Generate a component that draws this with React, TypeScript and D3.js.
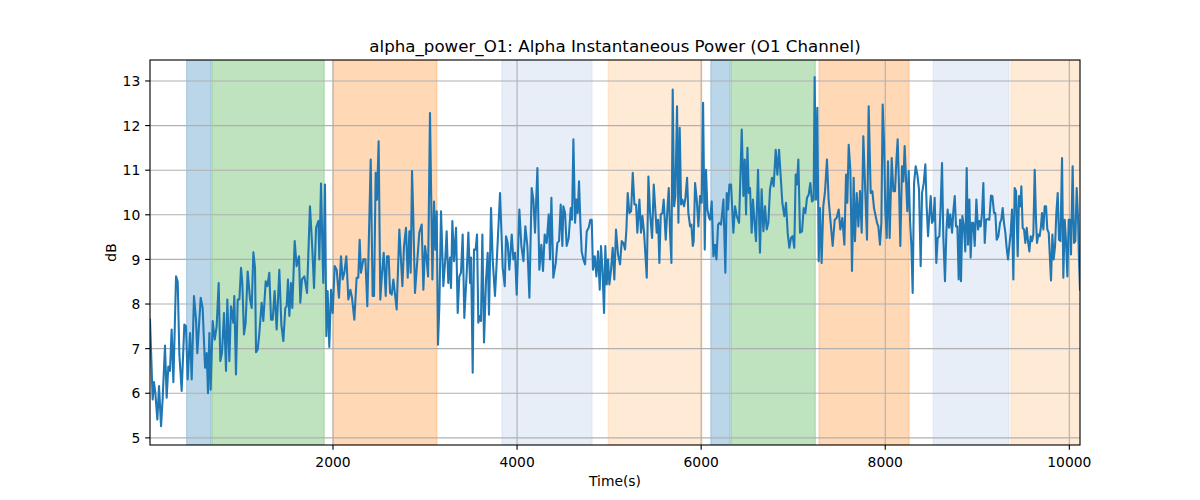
import React from "react";
import * as d3 from "d3";

// ---- data ----
const timeSec: number[] = [
  12,41,55,70,92,110,132,150,175,193,211,229,247,266,295,313,331,356,385,403,421,447,465,490,512,526,563,584,610,628,642,657,671,693,715,736,758,776,794,816,838,852,874,892,917,928,946,965,983,1001,1015,1033,1051,1073,1099,1117,1135,1153,1164,1182,1200,
  1225,1243,1269,1287,1308,1327,1345,1366,1388,1417,1439,1461,1482,1497,1511,1526,1544,1558,1584,1605,1631,1645,1663,1689,1718,1750,1776,1794,1816,1841,1852,1870,1888,1895,1913,1928,1942,1960,1979,1997,2018,2040,2065,2087,2105,2123,2145,2167,2189,2207,2232,2257,2275,2290,2304,2330,2352,2373,2410,2431,2446,2464,2478,2496,2514,2533,2551,2573,2587,2605,
  2620,2638,2656,2674,2692,2721,2754,2772,2793,2812,2830,2844,2859,2873,2891,2917,2938,2964,2982,3000,3018,3033,3054,3080,3098,3112,3127,3141,3156,3174,3199,3221,3235,3253,3272,3282,3297,3315,3337,3355,3373,3391,3409,3427,3453,3471,3489,3500,3518,3532,3550,3565,3579,3597,3608,3623,3641,3663,3681,3695,3717,3735,3760,3782,3815,3844,3866,3880,3898,3916,
  3942,3960,3978,3996,4025,4047,4069,4090,4112,4134,4159,4177,4195,4221,4242,4264,4282,4300,4322,4344,4358,4373,4394,4420,4438,4456,4474,4492,4503,4521,4539,4561,4583,4597,4612,4630,4644,4659,4673,4688,4702,4720,4739,4757,4778,4796,4811,4825,4844,4862,4880,4898,4912,4927,4945,4959,4974,4988,5003,5021,5039,5057,5075,5097,5119,5137,5155,5173,
  5188,5202,5220,5239,5257,5275,5293,5307,5329,5347,5362,5380,5409,5427,5445,5467,5485,5503,5517,5532,5546,5561,5579,5593,5615,5630,5648,5662,5677,5691,5706,5720,5738,5753,5767,5782,5796,5814,5829,5847,5861,5880,5894,5909,5919,5934,5952,5970,5988,6006,6021,6039,6053,6068,6086,6097,6115,6133,6151,6166,6184,6198,6216,6242,6263,6278,6292,6307,6325,6350,6368,6387,6412,6441,6459,6474,6488,6503,6517,
  6531,6549,6563,6578,6596,6618,6639,6657,6676,6694,6712,6730,6748,6770,6788,6810,6828,6846,6864,6882,6904,6922,6940,6958,6976,6994,7012,7027,7041,7056,7074,7096,7114,7132,7150,7168,7186,7204,7222,7233,7248,7262,7277,7291,7309,7327,7346,7367,7385,7407,7429,7451,7472,7494,7512,7534,7556,7574,7588,7603,7621,7639,7657,7671,7690,7708,7726,7744,7762,7777,7802,7820,
  7842,7860,7878,7896,7911,7925,7943,7958,7972,7987,8001,8016,8030,8048,8070,8088,8106,8121,8135,8150,8164,8182,8197,8211,8226,8240,8255,8269,8284,8298,8313,8331,8349,8367,8385,8400,8418,8436,8450,8465,8479,8494,8508,8523,8537,8555,8570,8588,8602,8617,8631,8649,8664,8678,8693,8707,8726,8740,8755,8769,8784,8798,8813,8823,8838,8856,8870,8885,8899,8914,8928,8943,8957,8972,8990,9008,9023,9037,9052,9066,9081,9095,9113,9131,
  9149,9164,9182,9196,9211,9229,9247,9261,9276,9290,9305,9319,9334,9348,9363,9377,9392,9406,9421,9439,9453,9468,9479,9493,9508,9522,9537,9551,9566,9580,9595,9609,9624,9638,9649,9663,9678,9692,9703,9718,9732,9747,9761,9776,9790,9801,9816,9830,9845,9859,9874,9888,9903,9921,9935,9950,9964,9979,9993,10008,10018,10036,10051,10065,10080,10094,10105,10116,
];

const alphaDb: number[] = [
  7.65,5.86,6.25,6.0,5.41,6.16,5.26,5.9,7.07,5.9,6.6,6.5,7.43,6.25,8.62,8.5,6.87,6.05,7.54,7.5,6.31,7.35,6.31,8.18,7.65,6.9,8.14,7.91,6.57,6.9,6.0,7.35,6.08,7.62,7.2,7.5,8.47,6.72,6.9,7.8,6.5,8.1,6.72,7.95,7.58,8.18,6.42,8.1,8.1,8.81,8.47,7.32,7.58,8.73,8.1,7.91,9.16,8.81,6.92,6.98,7.35,
  8.03,7.62,8.51,8.4,8.7,7.65,7.65,8.29,7.43,8.77,7.54,7.17,7.91,7.95,8.55,7.73,8.47,7.91,9.41,8.85,9.07,8.03,8.55,8.62,8.25,10.19,9.22,8.36,9.71,9.86,9.0,10.7,9.0,8.47,10.68,7.28,8.29,7.04,8.32,7.8,8.85,8.77,8.14,9.07,8.55,8.7,9.07,8.1,8.32,8.14,7.65,8.59,8.59,9.44,8.7,9.0,9.0,7.95,11.24,8.18,8.18,10.94,10.34,11.65,8.1,8.7,9.15,8.18,9.07,9.07,
  8.25,8.21,8.55,8.21,7.88,9.67,8.4,9.3,9.71,8.59,9.63,8.7,10.98,9.89,8.25,9.0,9.6,9.78,8.32,9.3,9.0,8.62,12.28,8.55,10.3,9.22,10.08,7.09,7.99,10.08,8.4,9.04,9.63,8.47,9.04,8.36,9.86,8.96,9.71,7.8,8.62,8.7,9.56,7.69,8.7,9.6,8.47,9.04,6.46,9.22,9.22,9.56,7.58,7.73,7.62,9.56,7.14,8.55,9.15,7.76,10.15,9.0,8.18,9.07,10.49,8.81,8.4,9.52,9.37,8.77,
  9.56,9.0,9.15,8.21,10.12,9.3,8.96,9.74,9.3,8.14,10.6,10.34,9.6,11.05,8.77,9.33,8.74,9.56,9.37,10.01,9.0,10.38,8.59,8.92,9.37,9.41,10.23,9.3,10.19,10.04,9.3,9.48,10.15,9.89,11.69,9.82,10.34,10.04,10.75,9.82,9.18,9.0,8.89,9.63,9.71,9.89,9.89,8.77,9.07,8.62,9.18,8.32,9.3,8.81,7.8,9.3,8.44,9.0,8.44,8.77,9.26,8.55,9.67,9.11,8.89,9.41,9.37,9.22,
  9.67,10.49,10.04,10.08,10.94,10.23,10.23,9.6,10.34,9.6,9.97,9.6,8.59,10.86,10.04,9.48,10.68,10.08,9.6,9.89,8.92,10.01,10.04,10.34,9.44,10.01,10.6,9.6,8.92,12.81,10.19,10.42,12.43,9.82,11.95,10.23,10.34,10.19,10.38,10.83,10.04,9.74,9.78,9.3,9.41,10.71,10.34,9.74,10.42,10.27,12.51,9.22,11.01,10.12,9.93,9.89,10.3,9.07,9.33,9.0,9.78,9.82,9.78,10.34,8.7,10.49,10.12,10.68,10.68,9.6,10.19,9.97,9.82,11.91,10.42,11.24,10.01,11.5,10.49,
  10.6,9.6,10.34,9.89,9.41,11.01,9.15,10.57,9.63,10.19,9.67,9.82,10.57,10.83,10.64,11.46,10.9,11.46,10.86,10.27,9.97,10.27,9.6,9.26,9.48,9.52,9.26,10.9,10.68,11.24,9.6,9.63,10.15,10.04,10.38,10.45,10.71,10.3,10.34,13.09,10.34,12.4,8.96,10.15,8.92,10.19,10.53,11.24,10.34,9.82,9.3,9.89,9.93,10.12,9.67,9.93,9.33,10.9,10.27,11.57,11.01,8.74,10.83,9.41,10.49,9.74,10.53,9.6,11.76,10.86,9.44,12.43,
  10.49,10.53,10.15,9.97,9.82,9.74,9.33,9.82,12.47,11.61,10.08,9.48,11.2,9.48,11.27,10.53,10.53,11.2,11.69,10.6,9.3,11.09,10.75,11.54,10.79,10.08,10.98,9.89,9.3,8.25,10.71,11.09,10.9,10.57,8.85,10.49,10.71,11.13,10.19,9.52,9.97,10.42,9.82,9.89,10.38,8.92,9.48,9.52,10.19,11.16,9.52,8.51,9.6,10.12,9.71,10.01,9.6,10.08,10.42,9.74,9.74,8.55,9.89,8.51,9.97,9.71,9.18,11.05,9.33,10.34,9.04,9.82,9.82,9.3,10.34,9.67,9.86,9.74,10.04,10.71,9.37,9.89,9.91,9.89,
  10.43,10.42,10.04,10.04,9.44,9.52,9.82,9.89,10.15,9.82,9.6,9.26,9.0,9.3,9.6,10.12,8.55,10.6,10.53,9.07,10.42,10.19,10.64,9.71,9.67,9.37,9.71,9.41,9.18,9.52,9.41,9.56,11.01,9.89,9.37,9.56,9.52,9.74,10.04,9.67,10.19,10.19,9.67,9.6,9.0,8.53,9.56,9.0,9.3,10.04,10.49,9.44,9.41,11.27,8.59,9.89,9.41,8.62,9.89,9.89,9.11,11.09,9.37,9.41,10.6,9.97,9.0,8.32,
];

// shaded condition intervals (seconds)
const bandStart: number[] = [410, 685, 2000, 3835, 4990, 6105, 6325, 7280, 8520, 9365];
const bandEnd: number[] = [675, 1905, 3130, 4815, 6010, 6315, 7240, 8260, 9345, 10200];
const bandKind: string[] = ["A", "B", "C", "D", "E", "A", "B", "C", "D", "E"];

const xTicks: number[] = [2000, 4000, 6000, 8000, 10000];
const yTicks: number[] = [5, 6, 7, 8, 9, 10, 11, 12, 13];
const yDomain: [number, number] = [4.84, 13.47];

const TITLE = "alpha_power_O1: Alpha Instantaneous Power (O1 Channel)";
const X_LABEL = "Time(s)";
const Y_LABEL = "dB";

// ---- styles ----
const KIND_COLOR: Record<string, string> = {
  A: "#1f77b4",
  B: "#2ca02c",
  C: "#ff7f0e",
  D: "#aec7e8",
  E: "#ffbb78",
};
const FONT = "'DejaVu Sans', sans-serif";
const PT = 100 / 72;

export default function App() {
  const W = 1200;
  const H = 500;
  const m = { left: 150, right: 1080, top: 60, bottom: 445 };

  const n = Math.min(timeSec.length, alphaDb.length);
  const pts: [number, number][] = [];
  for (let i = 0; i < n; i++) pts.push([timeSec[i], alphaDb[i]]);

  const xExt = d3.extent(pts, (d) => d[0]) as [number, number];
  const x = d3.scaleLinear().domain(xExt).range([m.left, m.right]);
  const y = d3.scaleLinear().domain(yDomain).range([m.bottom, m.top]);

  const line = d3
    .line<[number, number]>()
    .x((d) => x(d[0]))
    .y((d) => y(d[1]));

  const pw = m.right - m.left;
  const ph = m.bottom - m.top;
  const tickLen = 3.5 * PT;
  const lw = 0.8 * PT;
  const fs = 10 * PT;

  return (
    <svg
      width={W}
      height={H}
      style={{ position: "fixed", left: 0, top: 0, background: "#fff" }}
      fontFamily={FONT}
    >
      <defs>
        <clipPath id="plotclip">
          <rect x={m.left} y={m.top} width={pw} height={ph} />
        </clipPath>
      </defs>
      <rect x={0} y={0} width={W} height={H} fill="#fff" />

      <g clipPath="url(#plotclip)">
        {bandStart.map((s, i) => {
          const x0 = x(s);
          const x1 = x(bandEnd[i]);
          const c = KIND_COLOR[bandKind[i]];
          return (
            <rect
              key={i}
              x={x0}
              y={m.top}
              width={x1 - x0}
              height={ph}
              fill={c}
              fillOpacity={0.3}
              stroke={c}
              strokeOpacity={0.3}
              strokeWidth={1}
            />
          );
        })}

        {xTicks.map((t) => (
          <line key={"gx" + t} x1={x(t)} x2={x(t)} y1={m.top} y2={m.bottom} stroke="#b0b0b0" strokeWidth={lw} />
        ))}
        {yTicks.map((t) => (
          <line key={"gy" + t} x1={m.left} x2={m.right} y1={y(t)} y2={y(t)} stroke="#b0b0b0" strokeWidth={lw} />
        ))}

        <path
          d={line(pts) || ""}
          fill="none"
          stroke="#1f77b4"
          strokeWidth={1.5 * PT}
          strokeLinejoin="round"
          strokeLinecap="square"
        />
      </g>

      <rect x={m.left} y={m.top} width={pw} height={ph} fill="none" stroke="#000" strokeWidth={lw} />

      {xTicks.map((t) => (
        <g key={"xt" + t}>
          <line x1={x(t)} x2={x(t)} y1={m.bottom} y2={m.bottom + tickLen} stroke="#000" strokeWidth={lw} />
          <text x={x(t)} y={m.bottom + 21.7} textAnchor="middle" fontSize={fs} fill="#000">
            {t}
          </text>
        </g>
      ))}

      {yTicks.map((t) => (
        <g key={"yt" + t}>
          <line x1={m.left - tickLen} x2={m.left} y1={y(t)} y2={y(t)} stroke="#000" strokeWidth={lw} />
          <text x={m.left - 2 * tickLen} y={y(t) + 5.1} textAnchor="end" fontSize={fs} fill="#000">
            {t}
          </text>
        </g>
      ))}

      <text x={(m.left + m.right) / 2} y={52} textAnchor="middle" fontSize={12 * PT} fill="#000">
        {TITLE}
      </text>
      <text x={(m.left + m.right) / 2} y={486} textAnchor="middle" fontSize={fs} fill="#000">
        {X_LABEL}
      </text>
      <text
        transform={`translate(115.5, ${(m.top + m.bottom) / 2}) rotate(-90)`}
        textAnchor="middle"
        fontSize={fs}
        fill="#000"
      >
        {Y_LABEL}
      </text>
    </svg>
  );
}
